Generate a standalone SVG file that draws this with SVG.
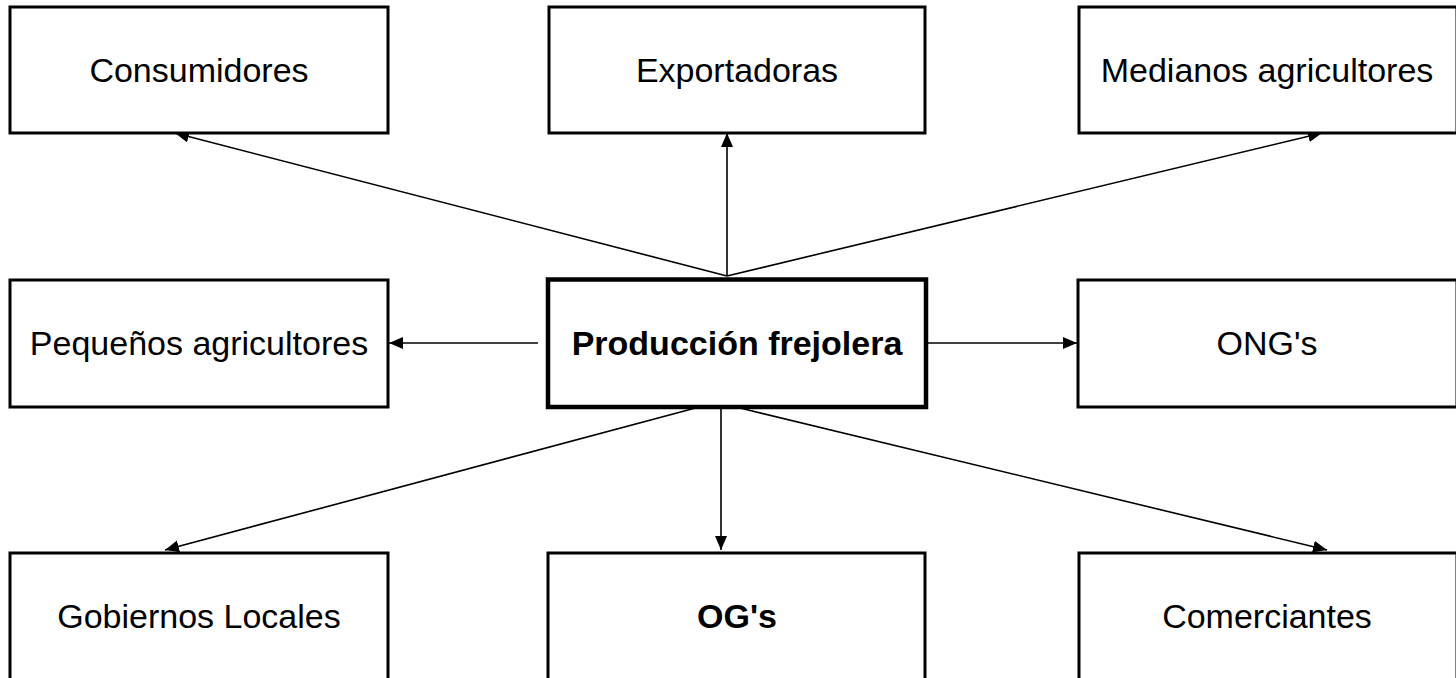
<svg xmlns="http://www.w3.org/2000/svg" width="1456" height="678" viewBox="0 0 1456 678">
  <style>
    .box { fill: #ffffff; stroke: #000000; stroke-width: 3; }
    .main { fill: #ffffff; stroke: #000000; stroke-width: 4.5; }
    .lbl { font-family: "Liberation Sans", Arial, sans-serif; font-size: 34px; fill: #000000; text-anchor: middle; }
    .bold { font-weight: bold; }
    .conn { stroke: #000000; stroke-width: 1.6; fill: none; marker-end: url(#arrow); }
  </style>
  <defs>
    <marker id="arrow" markerUnits="userSpaceOnUse" markerWidth="16" markerHeight="14" refX="14" refY="6" orient="auto">
      <path d="M0,0 L14,6 L0,12 Z" fill="#000000"/>
    </marker>
  </defs>
  <rect x="0" y="0" width="1456" height="678" fill="#ffffff"/>

  <g id="connectors">
    <line class="conn" x1="727" y1="276" x2="175" y2="133"/>
    <line class="conn" x1="727" y1="276" x2="727" y2="133"/>
    <line class="conn" x1="727" y1="276" x2="1322" y2="133"/>
    <line class="conn" x1="538" y1="343" x2="389" y2="343"/>
    <line class="conn" x1="928" y1="343" x2="1077" y2="343"/>
    <line class="conn" x1="718" y1="402" x2="165" y2="550"/>
    <line class="conn" x1="721" y1="409" x2="721" y2="550"/>
    <line class="conn" x1="740" y1="408" x2="1327" y2="550"/>
  </g>

  <g id="node-consumidores">
    <rect class="box" x="10" y="7" width="378" height="126"/>
    <text class="lbl" x="199" y="82">Consumidores</text>
  </g>
  <g id="node-exportadoras">
    <rect class="box" x="549" y="7" width="376" height="126"/>
    <text class="lbl" x="737" y="82">Exportadoras</text>
  </g>
  <g id="node-medianos">
    <rect class="box" x="1079" y="7" width="378" height="126"/>
    <text class="lbl" x="1267" y="82">Medianos agricultores</text>
  </g>
  <g id="node-pequenos">
    <rect class="box" x="10" y="280" width="378" height="127"/>
    <text class="lbl" x="199" y="355">Pequeños agricultores</text>
  </g>
  <g id="node-produccion">
    <rect class="main" x="548" y="279.5" width="378" height="127.5"/>
    <text class="lbl bold" x="737" y="355">Producción frejolera</text>
  </g>
  <g id="node-ongs">
    <rect class="box" x="1078" y="280" width="379" height="127"/>
    <text class="lbl" x="1267" y="355">ONG's</text>
  </g>
  <g id="node-gobiernos">
    <rect class="box" x="10" y="553" width="378" height="127"/>
    <text class="lbl" x="199" y="628">Gobiernos Locales</text>
  </g>
  <g id="node-ogs">
    <rect class="box" x="548" y="553" width="377" height="127"/>
    <text class="lbl bold" x="737" y="628">OG's</text>
  </g>
  <g id="node-comerciantes">
    <rect class="box" x="1079" y="553" width="378" height="127"/>
    <text class="lbl" x="1267" y="628">Comerciantes</text>
  </g>
</svg>
